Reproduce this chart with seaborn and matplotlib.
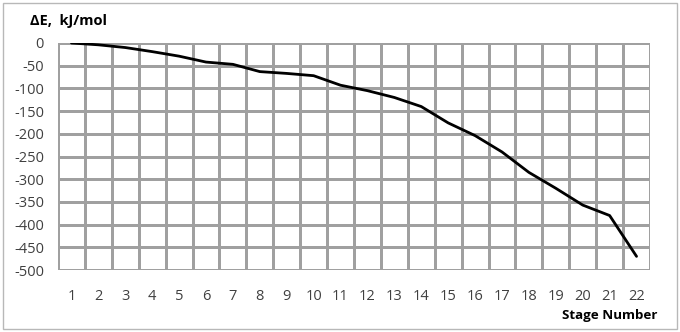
import matplotlib
matplotlib.use("Agg")
import matplotlib.pyplot as plt
import seaborn as sns
import pandas as pd
import numpy as np
from matplotlib.patches import FancyBboxPatch

stages = list(range(1, 23))
delta_e = [0, -4, -10, -19, -29, -42, -47, -63, -67, -72, -93, -105,
           -120, -140, -176, -204, -240, -285, -320, -357, -380, -470]
y_ticks = [0, -50, -100, -150, -200, -250, -300, -350, -400, -450, -500]
y_label = "ΔE,  kJ/mol"
x_label = "Stage Number"

sns.set_theme(style="white")
plt.rcParams['font.family'] = ['Open Sans', 'DejaVu Sans']

df = pd.DataFrame({"stage": stages, "dE": delta_e})

fig = plt.figure(figsize=(6.8, 3.32), dpi=100)
W, H = 680, 332
ax = fig.add_axes([58 / W, 1 - 270 / H, (650 - 58) / W, (270 - 43) / H])

grid_c = "#A0A0A0"
sns.lineplot(data=df, x="stage", y="dE", ax=ax, color="black", linewidth=2.0,
             zorder=3)

ax.set_xlim(0.5, 22.5)
ax.set_ylim(-500, 0)
ax.set_xticks(stages)
ax.set_xticklabels([str(s) for s in stages])
ax.set_yticks(y_ticks)
ax.set_yticklabels([str(v) for v in y_ticks])

# vertical grid at category boundaries
for b in np.arange(0.5, len(stages) + 1.0, 1.0):
    ax.axvline(b, color=grid_c, linewidth=1.0, zorder=1,
               antialiased=False, snap=True)
# horizontal grid at value ticks
for v in y_ticks:
    ax.axhline(v, color=grid_c, linewidth=1.0, zorder=1,
               antialiased=False, snap=True)

ax.grid(False)
for s in ax.spines.values():
    s.set_visible(False)
ax.tick_params(axis="both", which="both", length=0)
ax.tick_params(axis="x", labelsize=10.5, colors="#404040", pad=14)
ax.tick_params(axis="y", labelsize=10.5, colors="#404040", pad=10)
ax.set_xlabel("")
ax.set_ylabel("")

fig.text(30 / W, 1 - 21 / H, y_label, fontsize=10.5, fontweight="bold",
         color="black", va="center", ha="left")
fig.text(658 / W, 1 - 316 / H, x_label, fontsize=9.6, fontweight="bold",
         color="black", va="center", ha="right")

border = FancyBboxPatch((2.5 / W, 3 / H), (677 - 2.5) / W, (329 - 3) / H,
                        boxstyle="square,pad=0", transform=fig.transFigure,
                        fill=False, edgecolor="#B8B8B8", linewidth=1.0)
fig.patches.append(border)

fig.savefig("out.png", dpi=100)
